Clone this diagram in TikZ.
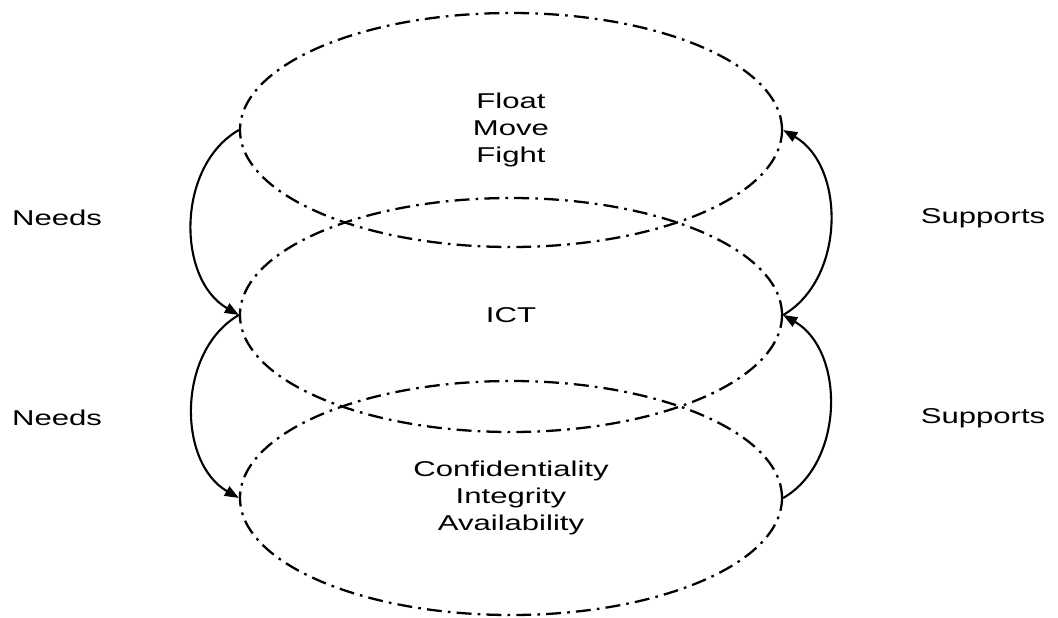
\documentclass[tikz,border=0pt]{standalone}
\usepackage{fontspec}
\setmainfont{Liberation Sans}[FakeStretch=1.45]
\usepackage{tikz}
\usetikzlibrary{positioning,calc}
\usetikzlibrary{arrows.meta,shapes.geometric}
\tikzset{
  layer/.style={ellipse,draw=black,line width=1.3pt,inner sep=0pt,minimum width=10.84cm,
    minimum height=4.68cm,dash pattern=on 8.5pt off 3.5pt on 1.5pt off 3.5pt,
    font=\fontsize{12.2}{15.6}\selectfont,align=center},
  link/.style={draw=black,line width=1.2pt,-{Triangle[length=8pt,width=6pt]}},
  lab/.style={font=\fontsize{12.2}{15.6}\selectfont,align=center,inner sep=0pt},
}

\begin{document}
\begin{tikzpicture}[scale=1]
\useasboundingbox (0,0) rectangle (21.16,12.34);
\coordinate (c1) at (10.22,9.74);
\coordinate (c2) at (10.22,6.04);
\coordinate (c3) at (10.22,2.38);
\node[layer] (fmf) at (c1) {Float\\Move\\Fight};
\node[layer] (ict) at (c2) {ICT};
\node[layer] (cia) at (c3) {Confidentiality\\Integrity\\Availability};
\draw[link] (fmf.west) to[bend right=60] (ict.west);
\draw[link] (ict.west) to[bend right=60] (cia.west);
\draw[link] (ict.east) to[bend right=60] (fmf.east);
\draw[link] (cia.east) to[bend right=60] (ict.east);
\node[lab] (n1) at (1.14,7.98) {Needs};
\node[lab] (n2) at (1.14,3.98) {Needs};
\node[lab] (s1) at (19.66,7.98) {Supports};
\node[lab] (s2) at (19.66,3.98) {Supports};
\end{tikzpicture}
\end{document}
